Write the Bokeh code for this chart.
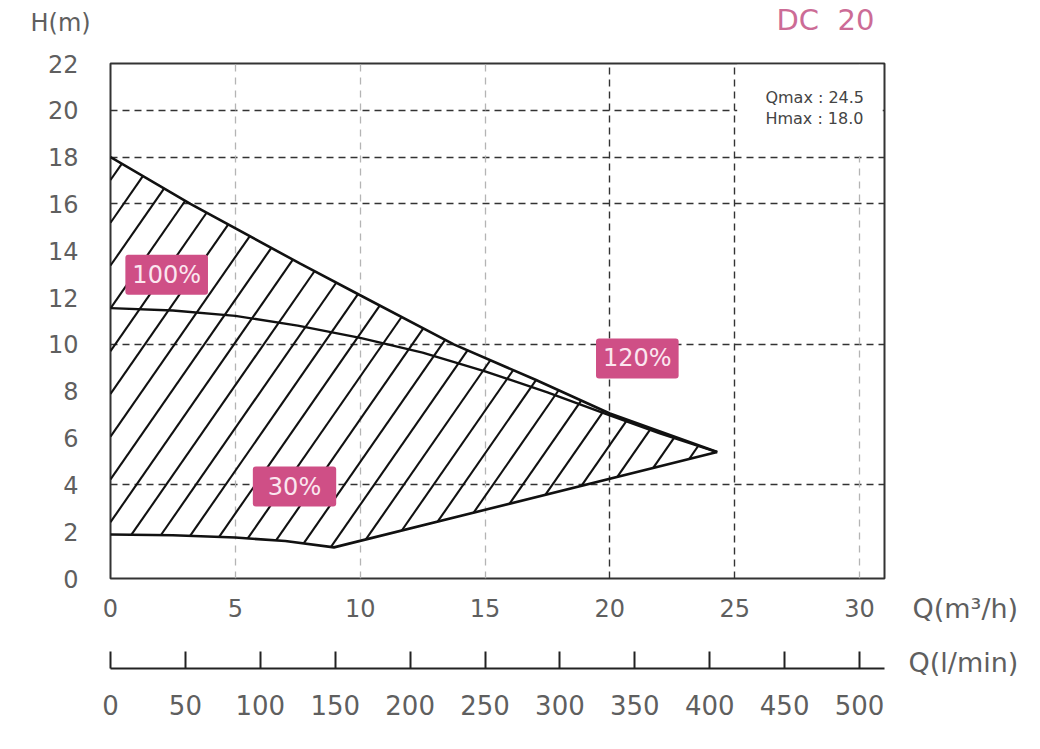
import numpy as np
from bokeh.plotting import figure
from bokeh.models import (Range1d, LinearAxis, FixedTicker, Grid, Label, BoxAnnotation)
from bokeh.embed import file_html
from bokeh.resources import INLINE

# ---------------- data ----------------
# upper limit curve (max speed)
upper_q = [0, 3.2, 7.6, 10, 13.75, 17, 20, 24.3]
upper_h = [18, 16, 13.45, 12.1, 10, 8.5, 7.05, 5.4]
# 100% curve
mid_q = [0, 2.5, 5, 7.5, 10, 12.5, 15, 17.5, 20, 22, 24.3]
mid_h = [11.55, 11.45, 11.22, 10.8, 10.28, 9.65, 8.85, 7.95, 6.97, 6.2, 5.4]
# lower limit curve (30%)
lower_q = [0, 2.5, 5, 7, 8.95, 24.3]
lower_h = [1.88, 1.85, 1.75, 1.6, 1.33, 5.4]

q_ticks = [0, 5, 10, 15, 20, 25, 30]
h_ticks = [0, 2, 4, 6, 8, 10, 12, 14, 16, 18, 20, 22]
lmin_ticks = [0, 50, 100, 150, 200, 250, 300, 350, 400, 450, 500]
hgrid_vals = [4, 10, 16, 18, 20]
vgrid_light = [5, 10, 15, 30]
vgrid_dark = [20, 25]

pct_labels = ["100%", "30%", "120%"]
pct_q = [2.25, 7.37, 21.1]
pct_h = [12.98, 3.93, 9.4]

q_max = 24.5
h_max = 18.0
model = "DC \u00a020"

Q_RANGE = (0, 31)
H_RANGE = (0, 22)
LMIN_PER_M3H = 1000 / 60

FONT = "DejaVu Sans"
GREY = "#5f5f5f"
PINK = "#cf4f86"

W, H = 1030, 740
FL, FT, FR, FB = 110, 63, 884, 578   # frame edges in canvas pixels

p = figure(width=W, height=H, output_backend="svg", toolbar_location=None,
           x_range=Range1d(*Q_RANGE), y_range=Range1d(*H_RANGE),
           min_border_left=FL, min_border_right=W - FR, min_border_top=FT,
           min_border_bottom=H - FB)
p.extra_x_ranges = {"lmin": Range1d(Q_RANGE[0] * LMIN_PER_M3H, Q_RANGE[1] * LMIN_PER_M3H)}
p.outline_line_color = "#333333"
p.outline_line_width = 2
p.background_fill_color = "white"
p.border_fill_color = "white"

# grids
p.xgrid.visible = False
p.ygrid.ticker = FixedTicker(ticks=hgrid_vals)
p.ygrid.grid_line_color = "#333333"
p.ygrid.grid_line_dash = "7 5"
p.ygrid.grid_line_width = 1.4
g1 = Grid(dimension=0, ticker=FixedTicker(ticks=vgrid_light), grid_line_color="#b4b4b4",
          grid_line_dash="7 6", grid_line_width=1.3)
g2 = Grid(dimension=0, ticker=FixedTicker(ticks=vgrid_dark), grid_line_color="#333333",
          grid_line_dash="7 5", grid_line_width=1.4)
p.add_layout(g1)
p.add_layout(g2)

# white box behind the Qmax/Hmax note
p.add_layout(BoxAnnotation(left=25.1, right=30.93, bottom=18.06, top=21.95,
                           fill_color="white", fill_alpha=1.0, line_color=None,
                           level="glyph"))

# axes
xa = p.xaxis[0]
xa.ticker = FixedTicker(ticks=q_ticks)
ya = p.yaxis[0]
ya.ticker = FixedTicker(ticks=h_ticks)
for ax in (xa, ya):
    ax.axis_line_color = None
    ax.major_tick_line_color = None
    ax.minor_tick_line_color = None
    ax.major_tick_out = 0
    ax.major_tick_in = 0
    ax.major_label_text_font = FONT
    ax.major_label_text_font_size = "24px"
    ax.major_label_text_color = GREY
xa.major_label_standoff = 20
ya.major_label_standoff = 32

# "Q(l/min)" title sits in the below panel, between the two axes
LMIN_TITLE_SLOT = 31
p.add_layout(Label(x=908 - FL, y=(FB + 41 + LMIN_TITLE_SLOT) - 662, x_units="screen",
                   y_units="screen", text="Q(l/min)", text_align="left",
                   text_baseline="middle", text_font=FONT, text_font_size="27px",
                   text_color=GREY), "below")

spacer = LinearAxis(ticker=FixedTicker(ticks=[Q_RANGE[1]]), axis_line_color=None,
                    major_label_overrides={Q_RANGE[1]: ""},
                    major_tick_line_color="white", minor_tick_line_color=None,
                    major_tick_out=49 - LMIN_TITLE_SLOT, major_tick_in=0,
                    major_label_standoff=0)
p.add_layout(spacer, "below")

la = LinearAxis(x_range_name="lmin", ticker=FixedTicker(ticks=lmin_ticks))
la.axis_line_color = "#222222"
la.axis_line_width = 2
la.major_tick_line_color = "#222222"
la.major_tick_line_width = 2
la.major_tick_in = 17
la.major_tick_out = 0
la.minor_tick_line_color = None
la.major_label_standoff = 26
la.major_label_text_font = FONT
la.major_label_text_font_size = "26px"
la.major_label_text_color = GREY
p.add_layout(la, "below")

# hatching of the operating area (diagonal lines clipped to the area)
slope = 1.535      # dH/dQ of hatch lines
step = 1.19        # horizontal spacing in Q units
phase = -0.38
qq = np.linspace(0, upper_q[-1], 6000)
lo = np.interp(qq, lower_q, lower_h)
up = np.interp(qq, upper_q, upper_h)
x0s, y0s, x1s, y1s = [], [], [], []
c = phase - step * np.ceil((phase + upper_h[0] / slope) / step)
while c < upper_q[-1]:
    hl = slope * (qq - c)
    inside = (hl >= lo) & (hl <= up)
    if inside.any():
        idx = np.where(inside)[0]
        a, b = qq[idx[0]], qq[idx[-1]]
        x0s.append(a); y0s.append(slope * (a - c))
        x1s.append(b); y1s.append(slope * (b - c))
    c += step
p.segment(x0s, y0s, x1s, y1s, line_color="#111111", line_width=2.1)

# curves
p.line(upper_q, upper_h, line_color="#111111", line_width=2.6)
p.line(mid_q, mid_h, line_color="#111111", line_width=2.4)
p.line(lower_q, lower_h, line_color="#111111", line_width=2.6)

# percentage labels (fixed-width pink tags)
for t, x, y in zip(pct_labels, pct_q, pct_h):
    pad_h = 7 if len(t) >= 4 else 15
    p.add_layout(Label(x=x, y=y, text=t, text_align="center", text_baseline="middle",
                       text_font=FONT, text_font_size="24px", text_color="#fbe6ef",
                       background_fill_color=PINK, background_fill_alpha=1.0,
                       padding=(pad_h, 6), border_radius=3))

# note
p.add_layout(Label(x=26.23, y=20.55, text=f"Qmax : {q_max:.1f}", text_align="left",
                   text_baseline="middle", text_font=FONT, text_font_size="16px",
                   text_color="#444444"))
p.add_layout(Label(x=26.23, y=19.65, text=f"Hmax : {h_max:.1f}", text_align="left",
                   text_baseline="middle", text_font=FONT, text_font_size="16px",
                   text_color="#444444"))

# titles outside the frame (side panels, screen units relative to their slot)
p.add_layout(Label(x=30 - FL, y=FT - 22, x_units="screen", y_units="screen", text="H(m)",
                   text_align="left", text_baseline="middle",
                   text_font=FONT, text_font_size="24px", text_color=GREY), "above")
p.add_layout(Label(x=776 - FL, y=(FT - 28) - 19, x_units="screen", y_units="screen", text=model,
                   text_align="left", text_baseline="middle",
                   text_font=FONT, text_font_size="29px", text_color="#cc6c96"), "above")
p.add_layout(Label(x=912 - FR, y=FB - 608, x_units="screen", y_units="screen", text="Q(m³/h)",
                   text_align="left", text_baseline="middle",
                   text_font=FONT, text_font_size="27px", text_color=GREY), "right")

open("out.html", "w").write(file_html(p, INLINE))
